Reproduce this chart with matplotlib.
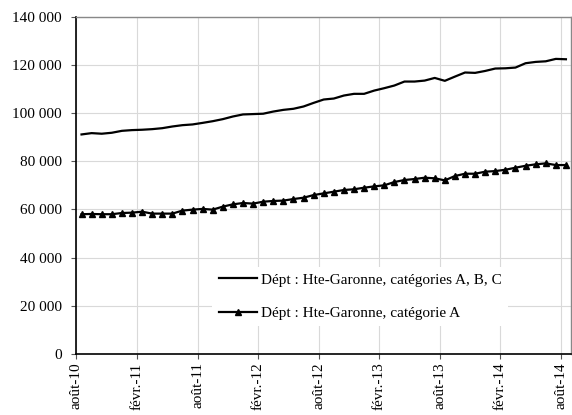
# Demandeurs d'emploi - Haute-Garonne, aout 2010 a aout 2014
import numpy as np
import matplotlib.pyplot as plt

plt.rcParams['font.family'] = ['Liberation Serif', 'DejaVu Serif']
plt.rcParams['font.size'] = 11

# monthly values, aout-10 .. aout-14 (49 months)
cat_abc = [91100, 91650, 91400, 91800, 92600, 92900, 93050, 93300, 93700, 94400,
           94950, 95250, 95900, 96600, 97450, 98550, 99400, 99550, 99700, 100600,
           101300, 101750, 102700, 104200, 105600, 106000, 107250, 107950, 107950, 109300,
           110300, 111400, 113050, 113050, 113450, 114550, 113350, 115100, 116800, 116650,
           117450, 118450, 118550, 118850, 120650, 121200, 121450, 122450, 122300]
cat_a = [58000, 58100, 58000, 58000, 58500, 58650, 59050, 58250, 58250, 58250,
         59500, 59900, 60200, 59900, 61150, 62100, 62650, 62400, 63200, 63500,
         63650, 64300, 64850, 65950, 66650, 67350, 68050, 68350, 69000, 69550,
         70000, 71350, 72200, 72600, 73150, 72900, 72050, 73850, 74800, 74800,
         75650, 75900, 76450, 77300, 78100, 78700, 79100, 78400, 78400]
tick_labels = ['août-10', 'févr.-11', 'août-11', 'févr.-12', 'août-12',
               'févr.-13', 'août-13', 'févr.-14', 'août-14']
lab_abc = 'Dépt : Hte-Garonne, catégories A, B, C'
lab_a = 'Dépt : Hte-Garonne, catégorie A'

x = np.arange(len(cat_abc)) + 0.5

fig = plt.figure(figsize=(5.72, 4.15), dpi=100)
ax = fig.add_axes([0.1337, 0.147, 0.8645, 0.813])

ax.plot(x, cat_abc, color='black', lw=1.6, label=lab_abc)
ax.plot(x, cat_a, color='black', lw=1.6, marker='^', ms=4.5, label=lab_a)

ax.set_xlim(0, len(cat_abc))
ax.set_ylim(0, 140000)
ax.set_xticks(np.arange(0, len(cat_abc), 6))
ax.set_xticklabels(tick_labels, rotation=90)
ax.set_yticks(np.arange(0, 140001, 20000))
ax.set_yticklabels(['{:,}'.format(v).replace(',', ' ') for v in range(0, 140001, 20000)])

ax.grid(True, color='#d9d9d9', lw=0.8)
ax.set_axisbelow(True)
ax.tick_params(direction='out', length=3.6, width=0.8, color='#555555')
ax.tick_params(axis='y', pad=7)
ax.tick_params(axis='x', pad=2.5)
for s in ['left', 'bottom']:
    ax.spines[s].set_color('black')
    ax.spines[s].set_linewidth(1.2)
for s in ['top', 'right']:
    ax.spines[s].set_color('#888888')
    ax.spines[s].set_linewidth(1.0)

leg = ax.legend(loc='center', bbox_to_anchor=(0.574, 0.17), frameon=True,
                fancybox=False, edgecolor='none', facecolor='white', framealpha=1,
                handlelength=2.5, handletextpad=0.3, labelspacing=1.3, fontsize=11,
                numpoints=1)

plt.savefig('out.png', dpi=100)
